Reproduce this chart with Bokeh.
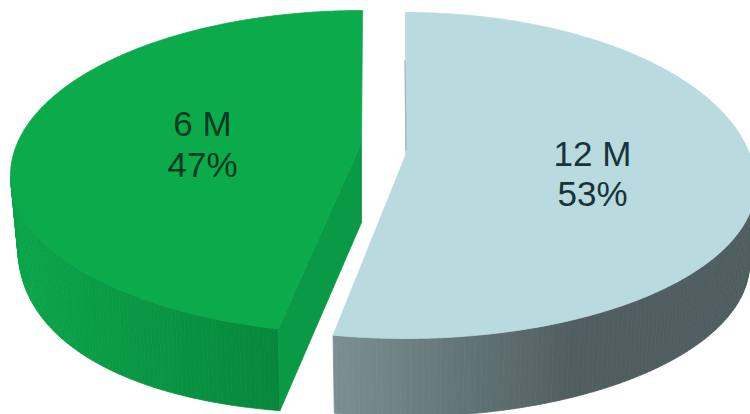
import numpy as np
from bokeh.plotting import figure
from bokeh.models import Range1d
from bokeh.core.properties import value
from bokeh.embed import file_html
from bokeh.resources import INLINE

categories = ["6 M", "12 M"]
percents = [47, 53]

sum_pct = sum(percents)
FONT = "Liberation Sans"


def lerp_hex(a, b, f):
    f = min(max(f, 0.0), 1.0)
    ca = [int(a[i:i + 2], 16) for i in (1, 3, 5)]
    cb = [int(b[i:i + 2], 16) for i in (1, 3, 5)]
    return "#%02x%02x%02x" % tuple(round(x + (y - x) * f) for x, y in zip(ca, cb))


def slice_shape(share, direction, warp, g):
    sweep = np.radians(share * 360 * warp)
    t = np.linspace(0, sweep, 400)
    s, c = np.sin(t), np.cos(t)
    top_x = g["cx"] + direction * g["rx"] * s
    top_y = g["cy"] - np.where(c > 0, g["ry_back"], g["ry_front"]) * c
    bot_x = g["cx"] + direction * g["rx_bot"] * s
    f = (1 - np.abs(s) ** g["n"]) ** (1 / g["n"])
    bot_y = g["cy_bot"] + g["ry_bot"] * f
    return t, top_x, top_y, bot_x, bot_y


left_geom = dict(cx=362, cy=175, rx=352, ry_back=165, ry_front=158,
                 rx_bot=345, cy_bot=240, ry_bot=173, n=2.3, apex=(361, 142), depth=80)
right_geom = dict(cx=405, cy=185, rx=350, ry_back=173, ry_front=153,
                  rx_bot=344, cy_bot=263, ry_bot=153, n=2.0, apex=(405, 155), depth=80)

p = figure(width=750, height=414, output_backend="svg", toolbar_location=None,
           x_range=Range1d(0, 750), y_range=Range1d(414, 0), min_border=0)
p.axis.visible = False
p.grid.visible = False
p.outline_line_color = None
p.background_fill_color = "white"
p.border_fill_color = "white"


def draw_side(t, tx, ty, bx, by, start_t, x0, x1, c0, c1):
    idx = np.where(t >= start_t)[0]
    step = 2
    xs, ys, cols = [], [], []
    for i in range(idx[0], len(t) - 1, step):
        j = min(i + step, len(t) - 1)
        xs.append(list(tx[i:j + 1]) + list(bx[i:j + 1][::-1]))
        ys.append(list(ty[i:j + 1]) + list(by[i:j + 1][::-1]))
        cols.append(lerp_hex(c0, c1, (0.5 * (bx[i] + bx[j]) - x0) / (x1 - x0)))
    p.patches(xs, ys, fill_color=cols, line_color=cols, line_width=0.8)


t, tx, ty, bx, by = slice_shape(percents[0] / sum_pct, -1, 0.982, left_geom)
ax, ay = left_geom["apex"]
d = left_geom["depth"]
draw_side(t, tx, ty, bx, by, np.pi / 2, 15, 280, "#0ba64a", "#07873b")
p.patch([ax, tx[-1], bx[-1], ax], [ay, ty[-1], by[-1], ay + d],
        fill_color="#0a9a46", line_color="#0a9a46", line_width=0.8)
p.patch(list(tx) + [ax], list(ty) + [ay], fill_color="#0bab4b",
        line_color="#0bab4b", line_width=0.8)

t, tx, ty, bx, by = slice_shape(percents[1] / sum_pct, 1, 1.006, right_geom)
ax, ay = right_geom["apex"]
draw_side(t, tx, ty, bx, by, np.pi / 2, 335, 570, "#7b8f93", "#4f5e61")
p.patch(list(tx) + [ax], list(ty) + [ay], fill_color="#b9dade",
        line_color="#b9dade", line_width=0.8)
p.line([ax - 0.5, ax + 0.5], [ay - 95, ay - 5], line_color="#9fb4bd", line_width=1.2)

label_x = [202, 592]
label_y = [[123, 164], [153, 193]]
label_col = ["#0a3a22", "#17343a"]
for k in range(2):
    p.text([label_x[k]] * 2, label_y[k],
           text=[categories[k], f"{percents[k]}%"],
           text_align="center", text_baseline="middle",
           text_font=value(FONT), text_font_size="35px", text_color=label_col[k])

open("out.html", "w").write(file_html(p, INLINE))
